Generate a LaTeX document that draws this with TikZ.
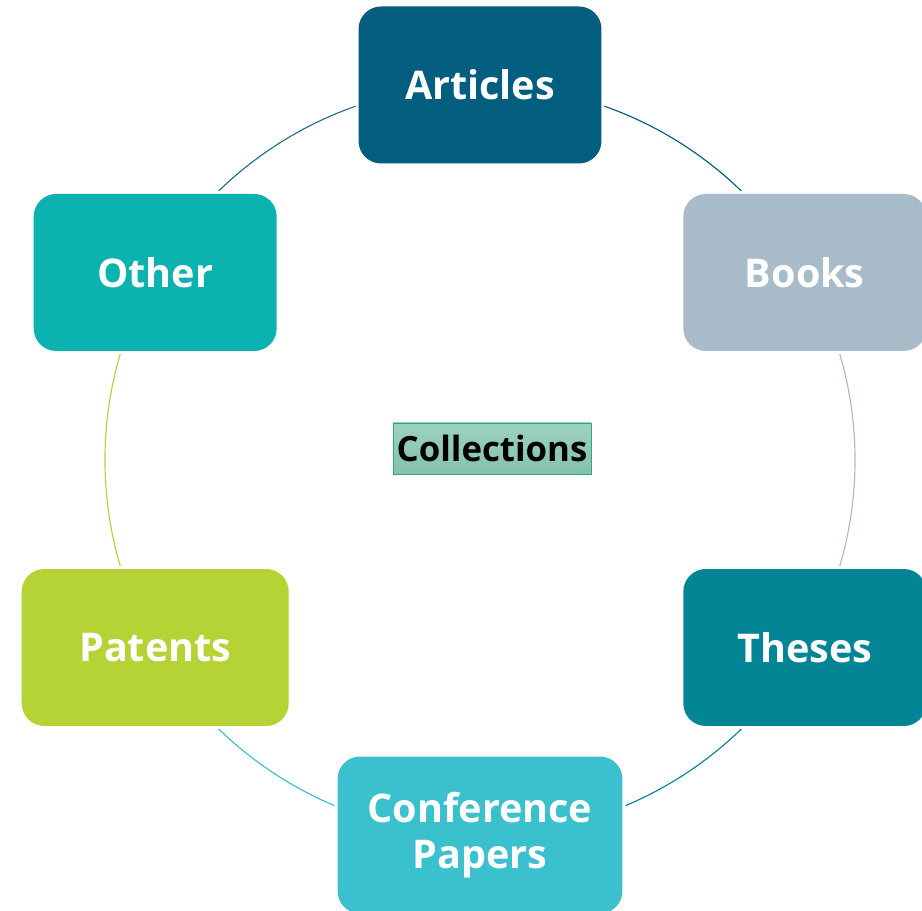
\documentclass[tikz,border=0pt]{standalone}
\usepackage{fontspec}
\setmainfont{Open Sans}
\usetikzlibrary{backgrounds}

\definecolor{artcol}{HTML}{035D7E}
\definecolor{bookcol}{HTML}{A7BBC8}
\definecolor{thescol}{HTML}{038596}
\definecolor{confcol}{HTML}{3BC1CD}
\definecolor{patcol}{HTML}{B5D335}
\definecolor{othcol}{HTML}{0CB2AF}
\definecolor{loopcol}{HTML}{236D8C}
\definecolor{colltop}{HTML}{9DD1BD}
\definecolor{collbot}{HTML}{84C2AC}
\definecolor{collline}{HTML}{2EA67F}

\begin{document}
\begin{tikzpicture}[x=0.02cm, y=0.02cm,
        item/.style={rounded corners=0.45cm, fill=#1, text=white, align=center,
          minimum width=4.86cm, minimum height=3.14cm,
          font=\fontsize{22.5}{26}\selectfont\bfseries,
          preaction={draw=white, line width=0.12cm}},
        ring/.style={line width=0.65pt}]
        \useasboundingbox (0,0) rectangle (922,911);
        \clip (0,0) rectangle (922,911);
        \node [item=artcol] (art) at (480,826) {Articles};
        \node [item=bookcol] (book) at (804.8,638.5) {Books};
        \node [item=thescol] (thes) at (804.8,263.5) {Theses};
        \node [item=confcol, minimum width=5.7cm] (conf) at (480,76) {Conference\\Papers};
        \node [item=patcol, minimum width=5.34cm] (pat) at (155.2,263.5) {Patents};
        \node [item=othcol] (oth) at (155.2,638.5) {Other};
        \node [draw=collline, top color=colltop, bottom color=collbot,
          minimum width=3.96cm, minimum height=1.02cm, inner sep=0pt,
          font=\fontsize{19.8}{23}\selectfont\bfseries] (coll) at (492,462.5) {Collections};
        % ring between the boxes
        \begin{scope}[on background layer]
        \draw [ring, artcol] (art.center) arc (90:30:375);
        \draw [ring, bookcol] (book.center) arc (30:-30:375);
        \draw [ring, thescol] (thes.center) arc (-30:-90:375);
        \draw [ring, confcol] (conf.center) arc (270:210:375);
        \draw [ring, patcol] (pat.center) arc (210:150:375);
        \draw [ring, loopcol] (oth.center) arc (150:90:375);
        \end{scope}
\end{tikzpicture}
\end{document}
